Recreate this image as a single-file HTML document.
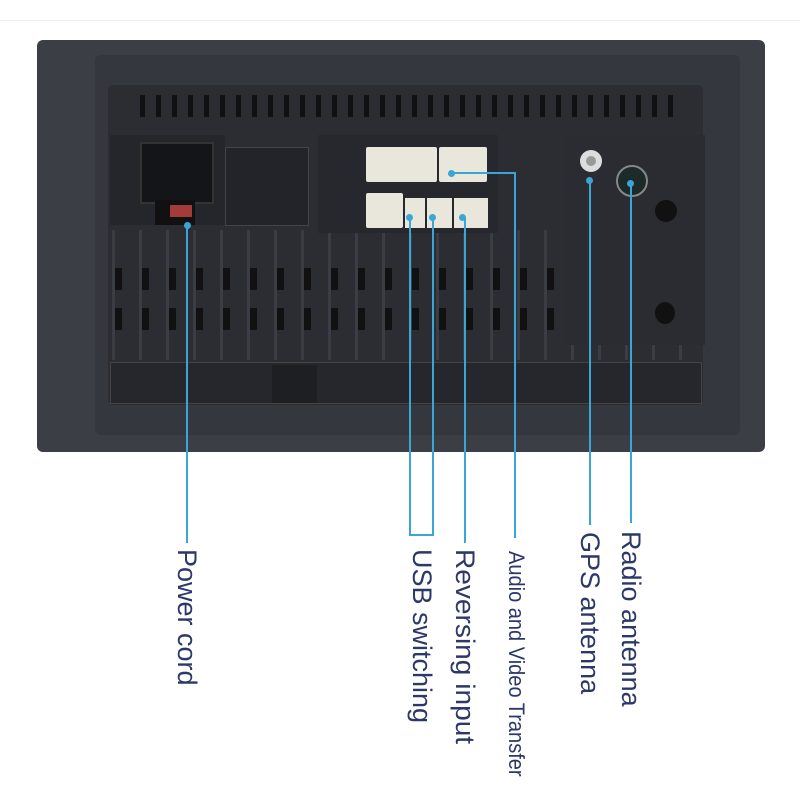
<!DOCTYPE html><html><head><style>
body{margin:0;width:800px;height:800px;background:#fff;position:relative;overflow:hidden;font-family:"Liberation Sans",sans-serif}
.a{position:absolute}
.t{position:absolute;transform-origin:0 0;white-space:nowrap;color:#2c3868;line-height:30px;height:30px}
.l{position:absolute;background:#3aa6d6;width:2px}
.h{position:absolute;background:#3aa6d6;height:2px}
.d{position:absolute;width:7px;height:7px;border-radius:50%;background:#3aa6d6}
</style></head><body>
<div class="a" style="left:0;top:20px;width:800px;height:1px;background:#eee"></div>
<div class="a" style="left:37px;top:40px;width:728px;height:412px;background:#3b3e45;border-radius:6px"></div>
<div class="a" style="left:95px;top:55px;width:645px;height:380px;background:#34373e;border-radius:6px"></div>
<div class="a" style="left:108px;top:85px;width:595px;height:320px;background:#2b2d33;border-radius:6px"></div>
<div class="a" style="left:140px;top:95px;width:540px;height:22px;background:repeating-linear-gradient(90deg,#111 0 5px,transparent 5px 16px)"></div>
<div class="a" style="left:112px;top:230px;width:585px;height:130px;background:repeating-linear-gradient(90deg,#3a3d44 0 3px,#2b2d33 3px 27px)"></div>
<div class="a" style="left:115px;top:268px;width:580px;height:22px;background:repeating-linear-gradient(90deg,#111 0 7px,transparent 7px 27px)"></div>
<div class="a" style="left:115px;top:308px;width:580px;height:22px;background:repeating-linear-gradient(90deg,#111 0 7px,transparent 7px 27px)"></div>
<div class="a" style="left:110px;top:362px;width:590px;height:40px;background:#25272c;border:1px solid #444"></div>
<div class="a" style="left:272px;top:365px;width:45px;height:38px;background:#1d1f23"></div>
<div class="a" style="left:110px;top:135px;width:115px;height:90px;background:#24262b"></div>
<div class="a" style="left:140px;top:142px;width:70px;height:58px;background:#141518;border:2px solid #333"></div>
<div class="a" style="left:155px;top:200px;width:40px;height:25px;background:#111"></div>
<div class="a" style="left:170px;top:205px;width:22px;height:12px;background:#a33b3b"></div>
<div class="a" style="left:225px;top:147px;width:82px;height:77px;background:#222429;border:1px solid #444"></div>
<div class="a" style="left:318px;top:135px;width:180px;height:98px;background:#26282d"></div>
<div class="a" style="left:366px;top:147px;width:71px;height:35px;background:#e9e6dc;border-radius:2px"></div>
<div class="a" style="left:439px;top:147px;width:48px;height:35px;background:#e9e6dc;border-radius:2px"></div>
<div class="a" style="left:366px;top:193px;width:37px;height:35px;background:#e9e6dc;border-radius:2px"></div>
<div class="a" style="left:405px;top:198px;width:20px;height:30px;background:#e9e6dc"></div>
<div class="a" style="left:427px;top:198px;width:25px;height:30px;background:#e9e6dc"></div>
<div class="a" style="left:454px;top:198px;width:34px;height:30px;background:#e9e6dc"></div>
<div class="a" style="left:565px;top:135px;width:140px;height:210px;background:#2a2c31"></div>
<div class="a" style="left:580px;top:150px;width:22px;height:22px;border-radius:50%;background:#ddd"></div>
<div class="a" style="left:586px;top:156px;width:10px;height:10px;border-radius:50%;background:#999"></div>
<div class="a" style="left:616px;top:165px;width:28px;height:28px;border-radius:50%;background:#1c2a2a;border:2px solid #888"></div>
<div class="a" style="left:655px;top:200px;width:22px;height:22px;border-radius:50%;background:#111"></div>
<div class="a" style="left:655px;top:302px;width:20px;height:22px;border-radius:50%;background:#111"></div>
<div class="d" style="left:184px;top:222px"></div><div class="l" style="left:186px;top:225px;height:318px"></div>
<div class="d" style="left:406px;top:214px"></div><div class="l" style="left:409px;top:217px;height:318px"></div>
<div class="d" style="left:429px;top:214px"></div><div class="l" style="left:432px;top:217px;height:318px"></div>
<div class="h" style="left:409px;top:534px;width:25px"></div>
<div class="d" style="left:459px;top:214px"></div><div class="l" style="left:464px;top:217px;height:326px"></div>
<div class="d" style="left:448px;top:170px"></div><div class="h" style="left:452px;top:172px;width:64px"></div><div class="l" style="left:514px;top:172px;height:366px"></div>
<div class="d" style="left:586px;top:177px"></div><div class="l" style="left:589px;top:180px;height:345px"></div>
<div class="d" style="left:627px;top:180px"></div><div class="l" style="left:630px;top:183px;height:340px"></div>
<div class="t" style="left:202px;top:549px;font-size:27px;transform:rotate(90deg)">Power cord</div>
<div class="t" style="left:437px;top:549px;font-size:27px;transform:rotate(90deg)">USB switching</div>
<div class="t" style="left:480px;top:549px;font-size:27px;transform:rotate(90deg) scaleX(1.04)">Reversing input</div>
<div class="t" style="left:528px;top:551px;font-size:22px;line-height:24px;transform:rotate(90deg) scaleX(0.91)">Audio and Video Transfer</div>
<div class="t" style="left:605px;top:532px;font-size:27px;transform:rotate(90deg)">GPS antenna</div>
<div class="t" style="left:646px;top:531px;font-size:27px;transform:rotate(90deg)">Radio antenna</div>
</body></html>
